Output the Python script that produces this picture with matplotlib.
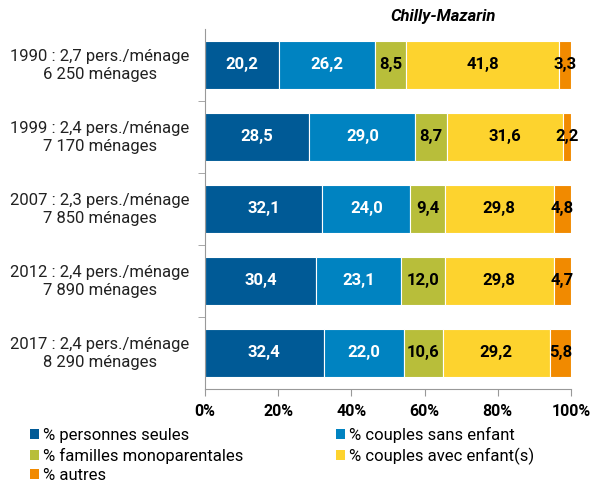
import matplotlib
matplotlib.use("Agg")
import matplotlib.pyplot as plt
from matplotlib.patches import Patch
import numpy as np

plt.rcParams['font.family'] = ['Roboto', 'DejaVu Sans']

categories = ["1990 : 2,7 pers./ménage\n6 250 ménages",
              "1999 : 2,4 pers./ménage\n7 170 ménages",
              "2007 : 2,3 pers./ménage\n7 850 ménages",
              "2012 : 2,4 pers./ménage\n7 890 ménages",
              "2017 : 2,4 pers./ménage\n8 290 ménages"]
series_names = ["% personnes seules", "% couples sans enfant",
                "% familles monoparentales", "% couples avec enfant(s)", "% autres"]
personnes_seules = [20.2, 28.5, 32.1, 30.4, 32.4]
couples_sans = [26.2, 29.0, 24.0, 23.1, 22.0]
familles_mono = [8.5, 8.7, 9.4, 12.0, 10.6]
couples_avec = [41.8, 31.6, 29.8, 29.8, 29.2]
autres = [3.3, 2.2, 4.8, 4.7, 5.8]
xticks = [0, 20, 40, 60, 80, 100]
xtick_labels = ["0%", "20%", "40%", "60%", "80%", "100%"]

colors = ["#005A96", "#0083C1", "#B8BE3A", "#FDD32E", "#F18A00"]
text_colors = ["white", "white", "black", "black", "black"]
series = [personnes_seules, couples_sans, familles_mono, couples_avec, autres]

fig = plt.figure(figsize=(5.92, 4.82), dpi=100)
ax = fig.add_axes([205/592, 1-389/482, 366/592, 360/482])

y = np.arange(len(categories))
left = np.zeros(len(categories))
for vals, c, tc, name in zip(series, colors, text_colors, series_names):
    vals = np.array(vals)
    ax.barh(y, vals, left=left, height=0.667, color=c, edgecolor="white", linewidth=0.8, label=name)
    for yi, l, v in zip(y, left, vals):
        ax.text(l + v/2, yi, f"{v:.1f}".replace(".", ","), ha="center", va="center",
                color=tc, fontsize=12, fontweight="bold")
    left += vals

ax.set_xlim(0, 100)
ax.set_ylim(len(categories) - 0.5, -0.5)
ax.set_yticks(y)
ax.set_yticklabels([])
ax.tick_params(axis="y", length=0)
for yi, cat in zip(y, categories):
    ax.text(-105/366, yi, cat, transform=ax.get_yaxis_transform(), ha="center", va="center",
            fontsize=12, color="#222222", linespacing=1.25)
ax.set_yticks(np.arange(0.5, len(categories) - 1, 1), minor=True)
ax.tick_params(axis="y", which="minor", length=5, color="#999999")
ax.set_xticks(xticks)
ax.set_xticklabels(xtick_labels, fontsize=11.5, fontweight="bold")
ax.tick_params(axis="x", length=5, color="#999999", pad=6)
for s in ["top", "right"]:
    ax.spines[s].set_visible(False)
ax.spines["left"].set_color("#999999")
ax.spines["bottom"].set_color("#999999")

fig.text(443/592, 1-16/482, "Chilly-Mazarin", ha="center", va="center",
         fontsize=12, fontweight="bold", fontstyle="italic")

ph = [Patch(facecolor=c) for c in colors]
leg = fig.legend(handles=[ph[0], ph[2], ph[4], ph[1], ph[3]],
                 labels=[series_names[0], series_names[2], series_names[4], series_names[1], series_names[3]],
                 loc="upper left", bbox_to_anchor=(30/592, 1-427/482),
                 ncol=2, frameon=False, fontsize=12, handlelength=0.54, handleheight=0.54,
                 handletextpad=0.24, columnspacing=5.55, labelspacing=0.27, borderpad=0,
                 borderaxespad=0)

fig.savefig("out.png", dpi=100)
